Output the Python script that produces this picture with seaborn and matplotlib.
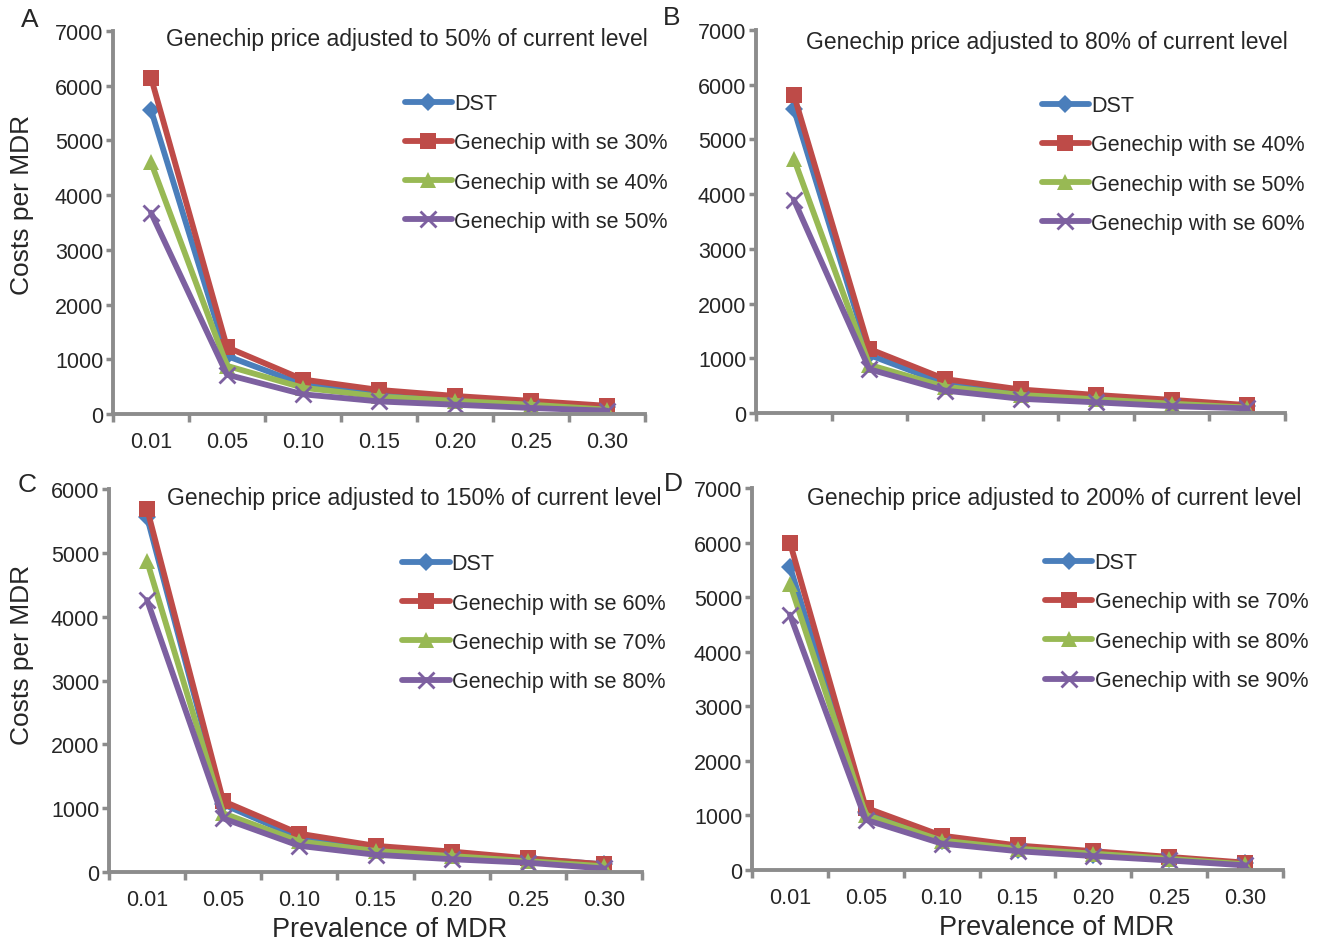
import matplotlib
matplotlib.use('Agg')
import matplotlib.pyplot as plt
import seaborn as sns
import pandas as pd

# Data
PREVALENCE = ['0.01', '0.05', '0.10', '0.15', '0.20', '0.25', '0.30']
DST = [5560, 1060, 540, 360, 270, 210, 120]

A_TITLE = 'Genechip price adjusted to 50% of current level'
A_LABELS = ['DST', 'Genechip with se 30%', 'Genechip with se 40%', 'Genechip with se 50%']
A_SE30 = [6150, 1220, 630, 440, 330, 240, 150]
A_SE40 = [4600, 880, 480, 320, 240, 170, 80]
A_SE50 = [3680, 720, 360, 230, 170, 110, 60]

B_TITLE = 'Genechip price adjusted to 80% of current level'
B_LABELS = ['DST', 'Genechip with se 40%', 'Genechip with se 50%', 'Genechip with se 60%']
B_SE40 = [5820, 1170, 620, 430, 330, 240, 145]
B_SE50 = [4650, 880, 480, 330, 250, 170, 100]
B_SE60 = [3900, 800, 410, 260, 195, 125, 85]

C_TITLE = 'Genechip price adjusted to 150% of current level'
C_LABELS = ['DST', 'Genechip with se 60%', 'Genechip with se 70%', 'Genechip with se 80%']
C_SE60 = [5690, 1110, 600, 410, 320, 215, 120]
C_SE70 = [4870, 920, 480, 330, 250, 170, 90]
C_SE80 = [4260, 840, 410, 270, 200, 145, 55]

D_TITLE = 'Genechip price adjusted to 200% of current level'
D_LABELS = ['DST', 'Genechip with se 70%', 'Genechip with se 80%', 'Genechip with se 90%']
D_SE70 = [6000, 1140, 630, 450, 345, 240, 135]
D_SE80 = [5250, 1010, 540, 390, 300, 205, 105]
D_SE90 = [4680, 920, 485, 345, 255, 175, 85]

COLORS = ['#4A7EBB', '#BE4B48', '#98B954', '#7D60A0']
MARKERS = ['D', 's', '^', 'X']
GREY = '#8C8C8C'

W, H = 1325, 945

sns.set_theme(style='white')
plt.rcParams['font.family'] = ['Liberation Sans', 'DejaVu Sans']

fig = plt.figure(figsize=(W / 100, H / 100), dpi=100)


def add_axes_px(left, top, right, bottom):
    return fig.add_axes([left / W, 1 - bottom / H, (right - left) / W, (bottom - top) / H])


def draw_panel(ax, labels, series, title, ymax, title_xy, leg_xy, show_xticks):
    rows = []
    for lab, vals in zip(labels, series):
        for p, v in zip(PREVALENCE, vals):
            rows.append({'prev': p, 'cost': v, 'series': lab})
    df = pd.DataFrame(rows)
    sns.lineplot(data=df, x='prev', y='cost', hue='series', style='series',
                 hue_order=labels, style_order=labels,
                 palette=dict(zip(labels, COLORS)),
                 markers=dict(zip(labels, MARKERS)), dashes=False,
                 linewidth=4.2, markersize=11, markeredgewidth=0,
                 errorbar=None, sort=False, legend=False, ax=ax)
    lines = ax.lines[:4]
    lines[0].set_markersize(9)
    # purple series uses a thin cross like the spreadsheet original
    lines[3].set_marker('x')
    lines[3].set_markersize(11)
    lines[3].set_markeredgewidth(2)
    lines[3].set_markeredgecolor(COLORS[3])

    ax.set_xlim(-0.5, len(PREVALENCE) - 0.5)
    ax.set_ylim(0, ymax)
    ax.set_yticks(range(0, ymax + 1, 1000))
    ax.set_xticks(range(len(PREVALENCE)))
    ax.set_xticks([i - 0.5 for i in range(len(PREVALENCE) + 1)], minor=True)
    if show_xticks:
        ax.set_xticklabels(PREVALENCE)
    else:
        ax.set_xticklabels([])
    ax.tick_params(axis='x', which='major', length=0, labelsize=15.5, pad=12)
    ax.tick_params(axis='x', which='minor', length=6, width=2.5, color=GREY, direction='out', bottom=True)
    ax.tick_params(axis='y', length=5, width=2.5, color=GREY, direction='out', left=True,
                   labelsize=15.5, pad=2)
    ax.set_xlabel('')
    ax.set_ylabel('')
    for side in ['top', 'right']:
        ax.spines[side].set_visible(False)
    for side in ['left', 'bottom']:
        ax.spines[side].set_color(GREY)
        ax.spines[side].set_linewidth(2.8)
    ax.text(title_xy[0], title_xy[1], title, transform=ax.transAxes,
            ha='center', va='center', fontsize=16.5)
    ax.legend(lines, labels, loc='upper left', bbox_to_anchor=leg_xy,
              frameon=False, fontsize=15.5, handlelength=2.2, handletextpad=0.1,
              labelspacing=0.85, borderpad=0, borderaxespad=0, numpoints=1)


ax_a = add_axes_px(113, 32, 645, 415)
ax_b = add_axes_px(756, 31, 1285, 414)
ax_c = add_axes_px(109, 490, 642, 873)
ax_d = add_axes_px(752, 489, 1283, 871)

draw_panel(ax_a, A_LABELS, [DST, A_SE30, A_SE40, A_SE50], A_TITLE, 7000,
           (0.553, 0.98), (0.548, 0.838), True)
draw_panel(ax_b, B_LABELS, [DST, B_SE40, B_SE50, B_SE60], B_TITLE, 7000,
           (0.55, 0.97), (0.54, 0.83), False)
draw_panel(ax_c, C_LABELS, [DST, C_SE60, C_SE70, C_SE80], C_TITLE, 6000,
           (0.572, 0.977), (0.55, 0.832), True)
draw_panel(ax_d, D_LABELS, [DST, D_SE70, D_SE80, D_SE90], D_TITLE, 7000,
           (0.57, 0.976), (0.552, 0.832), True)

for letter, x, y in [('A', 30, 20), ('B', 672, 18), ('C', 27, 485), ('D', 673, 484)]:
    fig.text(x / W, 1 - y / H, letter, ha='center', va='center', fontsize=19)

fig.text(22 / W, 1 - 205 / H, 'Costs per MDR', rotation=90, ha='center', va='center', fontsize=19)
fig.text(22 / W, 1 - 655 / H, 'Costs per MDR', rotation=90, ha='center', va='center', fontsize=19)
fig.text(390 / W, 1 - 930 / H, 'Prevalence of MDR', ha='center', va='center', fontsize=19.5)
fig.text(1057 / W, 1 - 928 / H, 'Prevalence of MDR', ha='center', va='center', fontsize=19.5)

fig.savefig('out.png', dpi=100, facecolor='white')
